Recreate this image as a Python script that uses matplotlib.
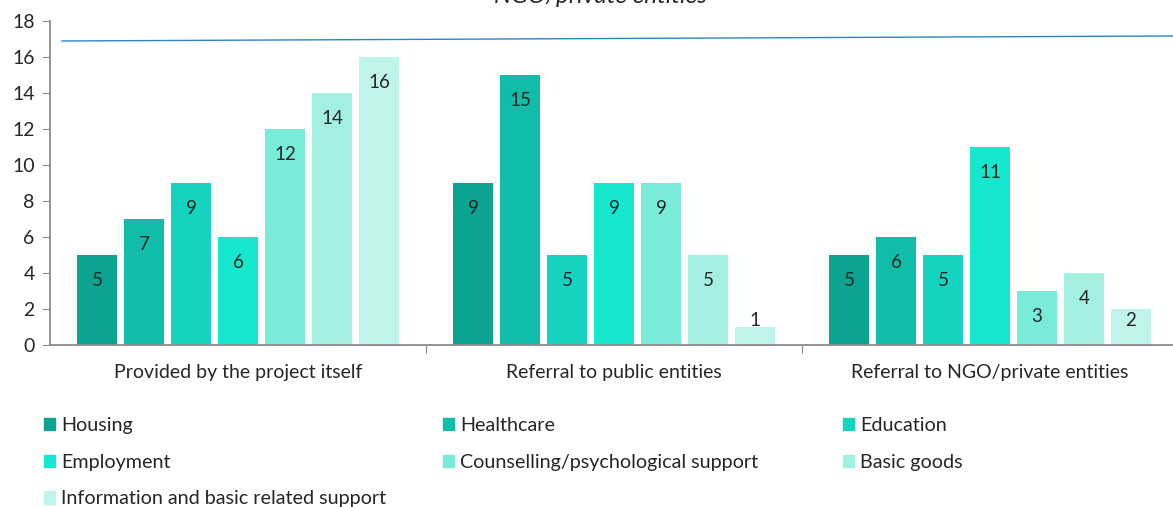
import matplotlib.pyplot as plt
from matplotlib.patches import Patch

plt.rcParams['font.family'] = ['Lato', 'DejaVu Sans']

categories = ['Provided by the project itself', 'Referral to public entities',
              'Referral to NGO/private entities']
series = ['Housing', 'Healthcare', 'Education', 'Employment',
          'Counselling/psychological support', 'Basic goods',
          'Information and basic related support']
values = {
    'Housing': [5, 9, 5],
    'Healthcare': [7, 15, 6],
    'Education': [9, 5, 5],
    'Employment': [6, 9, 11],
    'Counselling/psychological support': [12, 9, 3],
    'Basic goods': [14, 5, 4],
    'Information and basic related support': [16, 1, 2],
}
colors = ['#0da391', '#11bda8', '#14d4bf', '#16e8d0', '#78ebd9', '#a3f0e2', '#bff4eb']

# the thin blue line near the top
line_x = [-0.468, 2.5]
line_y = [16.89, 17.17]

fig = plt.figure(figsize=(11.73, 5.07), dpi=100)
ax = fig.add_axes([50 / 1173, 1 - 345 / 507, 1128 / 1173, 324 / 507])

step = 0.125
width = 0.104
px = 18 / 324  # data units per pixel on y
for i, name in enumerate(series):
    xs = [c + (i - 3) * step for c in range(len(categories))]
    bars = ax.bar(xs, values[name], width=width, color=colors[i], label=name, zorder=2)
    for b, v in zip(bars, values[name]):
        # inside end, but pushed up when the bar is too short
        ly = max(v - 26 * px, 25 * px)
        ax.text(b.get_x() + b.get_width() / 2, ly, str(v),
                ha='center', va='center', fontsize=13.5, color='#262626')

ax.plot(line_x, line_y, color='#2a86c4', lw=1, clip_on=False, zorder=3)

ax.set_xlim(-0.5, 2.5)
ax.set_ylim(0, 18)
ax.set_yticks(range(0, 19, 2))
ax.set_xticks([0.5, 1.5, 2.5])
ax.set_xticklabels([])
ax.set_xticks(range(3), minor=True)
ax.set_xticklabels(categories, minor=True)
ax.tick_params(axis='x', which='minor', length=0, pad=14, labelsize=14, labelcolor='#262626')
ax.tick_params(axis='x', which='major', length=6, color='#8c8c8c', direction='out')
ax.tick_params(axis='y', length=6, color='#8c8c8c', labelsize=14, labelcolor='#262626', pad=5)
for s in ['top', 'right']:
    ax.spines[s].set_visible(False)
for s in ['left', 'bottom']:
    ax.spines[s].set_color('#8c8c8c')
    ax.spines[s].set_linewidth(1.3)

# partially cut-off title at the top
fig.text(600 / 1173, 1 - 3 / 507, 'NGO/private entities', ha='center', va='baseline',
         fontsize=17.5, style='italic', color='#262626')

# legend in three columns, row-major order
handles = [Patch(color=c) for c in colors]
col_x = [44 / 1173, 443 / 1173, 843 / 1173]
for k in range(3):
    idx = list(range(k, len(series), 3))
    leg = fig.legend([handles[j] for j in idx], [series[j] for j in idx],
                     loc='upper left', bbox_to_anchor=(col_x[k], 1 - 417 / 507),
                     frameon=False, fontsize=14.2, handlelength=0.57, handleheight=0.57,
                     handletextpad=0.3, labelspacing=1.0, borderaxespad=0,
                     borderpad=0, labelcolor='#262626')

fig.savefig('out.png', dpi=100)
